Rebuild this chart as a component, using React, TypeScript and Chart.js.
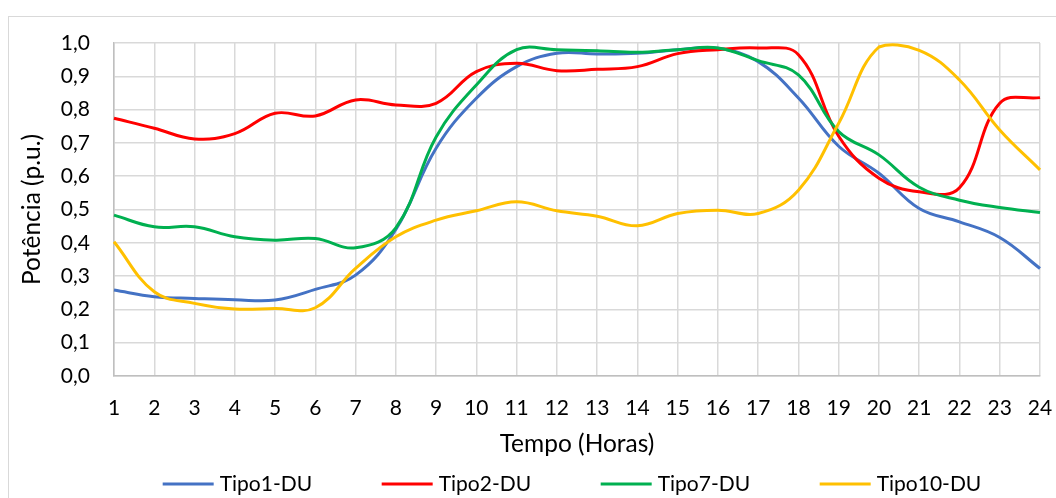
import React, { useEffect, useRef } from 'react';
import { Chart, registerables } from 'chart.js';

Chart.register(...registerables);

const hours = ['1','2','3','4','5','6','7','8','9','10','11','12','13','14','15','16','17','18','19','20','21','22','23','24'];
const tipo1 = [0.258, 0.238, 0.233, 0.229, 0.228, 0.26, 0.303, 0.44, 0.684, 0.834, 0.929, 0.969, 0.967, 0.969, 0.98, 0.984, 0.944, 0.835, 0.69, 0.609, 0.503, 0.463, 0.416, 0.323];
const tipo2 = [0.774, 0.744, 0.712, 0.728, 0.789, 0.781, 0.829, 0.814, 0.819, 0.914, 0.939, 0.917, 0.921, 0.929, 0.968, 0.98, 0.985, 0.965, 0.72, 0.594, 0.553, 0.565, 0.819, 0.836];
const tipo7 = [0.483, 0.448, 0.448, 0.418, 0.408, 0.413, 0.385, 0.445, 0.718, 0.874, 0.98, 0.98, 0.977, 0.972, 0.98, 0.985, 0.947, 0.904, 0.734, 0.664, 0.567, 0.528, 0.506, 0.491];
const tipo10 = [0.403, 0.253, 0.218, 0.201, 0.203, 0.205, 0.323, 0.418, 0.468, 0.496, 0.523, 0.496, 0.48, 0.451, 0.488, 0.498, 0.488, 0.558, 0.759, 0.988, 0.978, 0.889, 0.739, 0.619];

const seriesNames = ['Tipo1-DU', 'Tipo2-DU', 'Tipo7-DU', 'Tipo10-DU'];
const seriesColors = ['#4472C4', '#FF0000', '#00B050', '#FFC000'];
const xTitle = 'Tempo (Horas)';
const yTitle = 'Potência (p.u.)';

const FONT = 'Lato, "Open Sans", sans-serif';
const TICK_SIZE = 21;
const TITLE_SIZE = 24.5;
const LEGEND_SIZE = 21;

const bottomLegend = {
  id: 'bottomLegend',
  afterDraw(chart: any) {
    const { ctx, chartArea } = chart;
    ctx.save();
    ctx.font = `${LEGEND_SIZE}px ${FONT}`;
    ctx.textBaseline = 'middle';
    ctx.textAlign = 'left';
    const lineLen = 51;
    const gap = 6;
    const slot = 219;
    const ds = chart.data.datasets;
    const lastW = lineLen + gap + ctx.measureText(ds[ds.length - 1].label).width;
    const total = slot * (ds.length - 1) + lastW;
    const cx = (chartArea.left + chartArea.right) / 2 - 5;
    let x = cx - total / 2;
    const y = chart.height - 14;
    ds.forEach((d: any) => {
      ctx.fillStyle = d.borderColor;
      ctx.fillRect(x, y - 1.5, lineLen, 3);
      ctx.fillStyle = '#000';
      ctx.fillText(d.label, x + lineLen + gap, y);
      x += slot;
    });
    ctx.restore();
  },
};

export default function App() {
  const canvasRef = useRef<HTMLCanvasElement | null>(null);

  useEffect(() => {
    if (!canvasRef.current) return;
    const values = [tipo1, tipo2, tipo7, tipo10];
    const chart = new Chart(canvasRef.current, {
      type: 'line',
      data: {
        labels: hours,
        datasets: values.map((v, i) => ({
          label: seriesNames[i],
          data: v,
          borderColor: seriesColors[i],
          backgroundColor: seriesColors[i],
          borderWidth: 3,
          pointRadius: 0,
          tension: 0.4,
          fill: false,
          clip: false as any,
          order: values.length - i,
        })),
      },
      options: {
        animation: false,
        responsive: true,
        maintainAspectRatio: false,
        layout: { padding: { top: 26, right: 16, left: 0, bottom: 36 } },
        plugins: {
          legend: { display: false },
          tooltip: { enabled: false },
        },
        scales: {
          x: {
            type: 'category',
            offset: false,
            grid: { color: '#d9d9d9', lineWidth: 1.5, drawTicks: true, tickLength: 20, tickColor: 'rgba(0,0,0,0)', offset: false },
            border: { color: '#bfbfbf', width: 1.5 },
            ticks: { color: '#000', font: { family: FONT, size: TICK_SIZE }, padding: 0, maxRotation: 0, autoSkip: false },
            title: { display: true, text: xTitle, color: '#000', font: { family: FONT, size: TITLE_SIZE }, padding: { top: 0, bottom: 3 } },
            afterFit: (s: any) => { s.height = 86; },
          },
          y: {
            min: 0,
            max: 1,
            grid: { color: '#d9d9d9', lineWidth: 1.5, drawTicks: true, tickLength: 24, tickColor: 'rgba(0,0,0,0)' },
            border: { color: '#bfbfbf', width: 1.5 },
            ticks: {
              stepSize: 0.1,
              color: '#000',
              font: { family: FONT, size: TICK_SIZE },
              padding: 0,
              callback: (v: any) => Number(v).toFixed(1).replace('.', ','),
            },
            title: { display: true, text: yTitle, color: '#000', font: { family: FONT, size: TITLE_SIZE }, padding: { top: 8, bottom: 0 } },
            afterFit: (s: any) => { s.width = 105; },
          },
        },
      },
      plugins: [bottomLegend],
    });
    return () => chart.destroy();
  }, []);

  return (
    <div
      style={{
        position: 'fixed',
        left: 8,
        top: 16,
        width: 1048,
        height: 482,
        boxSizing: 'border-box',
        borderTop: '1px solid #d9d9d9',
        borderLeft: '1px solid #d9d9d9',
        background: '#fff',
      }}
    >
      <div style={{ position: 'relative', width: '100%', height: '100%' }}>
        <canvas ref={canvasRef} />
      </div>
    </div>
  );
}
